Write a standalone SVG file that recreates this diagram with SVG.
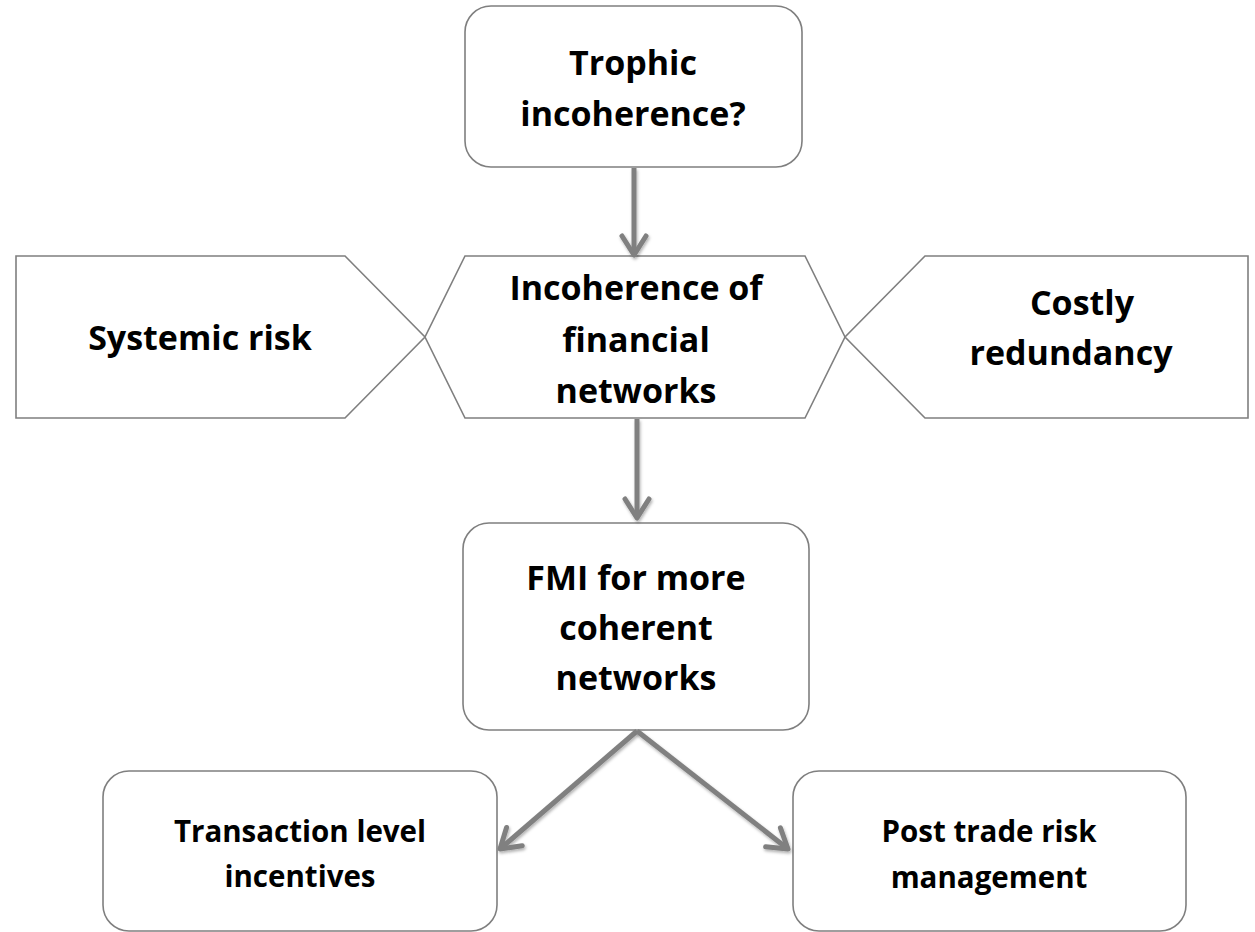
<svg xmlns="http://www.w3.org/2000/svg" width="1255" height="932" viewBox="0 0 1255 932">
  <style>
    .shape { fill: #ffffff; stroke: #7f7f7f; stroke-width: 1.6; }
    .label { font-family: "Open Sans", Lato, "Liberation Sans", sans-serif; font-weight: 700; fill: #000000; text-anchor: middle; }
    .big { font-size: 34px; }
    .small { font-size: 29.5px; }
    .conn { fill: none; stroke: #808080; stroke-width: 5; marker-end: url(#chevron); filter: url(#shadow); }
  </style>
  <defs>
    <marker id="chevron" viewBox="-26 -16 30 32" markerWidth="30" markerHeight="32" refX="0" refY="0" markerUnits="userSpaceOnUse" orient="auto" overflow="visible">
      <path d="M -19 -12 L 0 0 L -19 12" fill="none" stroke="#808080" stroke-width="5" stroke-linecap="round" stroke-linejoin="round"/>
    </marker>
    <filter id="shadow" filterUnits="userSpaceOnUse" x="0" y="0" width="1255" height="932">
      <feDropShadow dx="1" dy="2" stdDeviation="1.5" flood-color="#000000" flood-opacity="0.3"/>
    </filter>
  </defs>

  <rect width="1255" height="932" fill="#ffffff"/>

  <g id="node-trophic">
    <rect class="shape" x="465" y="6" width="337" height="161" rx="26" ry="26"/>
    <text class="label big" x="633" y="75">Trophic</text>
    <text class="label big" x="633" y="126">incoherence?</text>
  </g>

  <g id="node-systemic-risk">
    <polygon class="shape" points="16,256 345,256 425,337 345,418 16,418"/>
    <text class="label big" x="200" y="350">Systemic risk</text>
  </g>

  <g id="node-incoherence">
    <polygon class="shape" points="465,256 805,256 845,337 805,418 465,418 425,337"/>
    <text class="label big" x="636" y="300">Incoherence of</text>
    <text class="label big" x="636" y="352">financial</text>
    <text class="label big" x="636" y="403">networks</text>
  </g>

  <g id="node-costly-redundancy">
    <polygon class="shape" points="925,256 1248,256 1248,418 925,418 845,337"/>
    <text class="label big" x="1082" y="315">Costly</text>
    <text class="label big" x="1071" y="365">redundancy</text>
  </g>

  <g id="node-fmi">
    <rect class="shape" x="463" y="523" width="346" height="207" rx="26" ry="26"/>
    <text class="label big" x="636" y="590">FMI for more</text>
    <text class="label big" x="636" y="640">coherent</text>
    <text class="label big" x="636" y="690">networks</text>
  </g>

  <g id="node-transaction">
    <rect class="shape" x="103" y="771" width="394" height="160" rx="26" ry="26"/>
    <text class="label small" x="300" y="842">Transaction level</text>
    <text class="label small" x="300" y="887">incentives</text>
  </g>

  <g id="node-post-trade">
    <rect class="shape" x="793" y="771" width="393" height="160" rx="26" ry="26"/>
    <text class="label small" x="989" y="842">Post trade risk</text>
    <text class="label small" x="989" y="888">management</text>
  </g>

  <g id="connectors">
    <line class="conn" x1="634" y1="168" x2="634" y2="255"/>
    <line class="conn" x1="637" y1="419" x2="637" y2="518"/>
    <line class="conn" x1="637" y1="731" x2="500" y2="849"/>
    <line class="conn" x1="637" y1="731" x2="788" y2="849"/>
  </g>
</svg>
